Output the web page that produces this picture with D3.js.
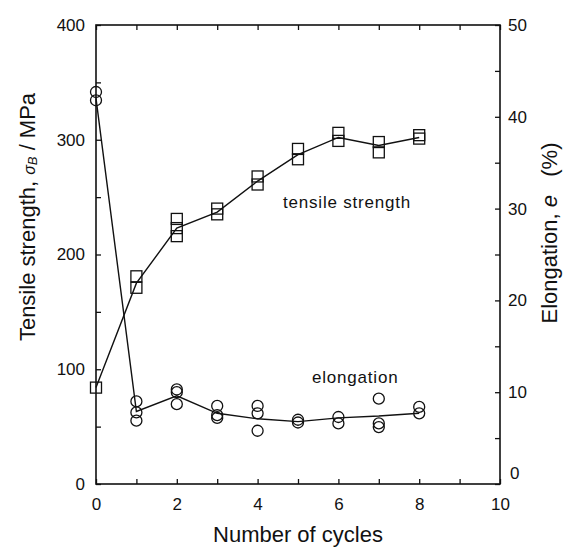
<!DOCTYPE html>
<html>
<head>
<meta charset="utf-8">
<script src="https://cdn.jsdelivr.net/npm/d3@7/dist/d3.min.js"></script>
<style>
  html, body { margin: 0; padding: 0; background: #fff; }
  svg { display: block; font-family: "Liberation Sans", Arial, Helvetica, sans-serif; }
  .tick text { font-size: 17px; fill: #111; }
  .tick line { stroke: #111; stroke-width: 1.3; }
</style>
</head>
<body>
<div id="chart"></div>
<script>
// cycles on the x axis
const cycles = [0, 1, 2, 3, 4, 5, 6, 7, 8];

// tensile strength (MPa), individual specimens
const tensileCycle = [0, 1, 1, 2, 2, 2, 3, 3, 4, 4, 5, 5, 6, 6, 7, 7, 8, 8];
const tensileValue = [84, 181, 171, 231, 223, 216, 240, 235, 268, 261, 292, 283, 306, 299, 298, 289, 304, 301];
// trend line drawn through the squares
const tensileLine = [84, 175, 223, 237, 264, 287, 302, 295, 302];

// elongation (%), individual specimens
const elongCycle = [0, 0, 1, 1, 1, 2, 2, 2, 3, 3, 3, 4, 4, 4, 5, 5, 6, 6, 7, 7, 7, 8, 8];
const elongValue = [42.7, 41.8, 9.0, 7.8, 6.9, 10.3, 10.0, 8.7, 8.5, 7.5, 7.2, 8.5, 7.7, 5.8, 7.0, 6.7, 7.3, 6.6, 9.3, 6.6, 6.2, 8.4, 7.7];
// trend line drawn through the circles
const elongLine = [42.0, 7.9, 9.6, 7.7, 7.1, 6.8, 7.2, 7.4, 7.7];

const xTicks = d3.range(0, 11, 1);
const leftTicks = d3.range(0, 401, 50);
const rightTicks = d3.range(0, 51, 5);

const width = 568, height = 548;
const plotL = 96, plotR = 500, plotT = 25, plotB = 484;
const ink = "#111";

const svg = d3.select("#chart").append("svg")
  .attr("width", width).attr("height", height);

const x = d3.scaleLinear().domain([0, 10]).range([plotL, plotR]);
const yL = d3.scaleLinear().domain([0, 400]).range([plotB, plotT]);
const yR = d3.scaleLinear().domain([0, 50]).range([plotB, plotT]);

// axes, ticks pointing inward
svg.append("g").attr("transform", `translate(0,${plotB})`)
  .call(d3.axisBottom(x).tickValues(xTicks).tickSize(-5).tickPadding(14)
    .tickFormat(d => d % 2 === 0 ? d : ""));
svg.append("g").attr("transform", `translate(0,${plotT})`)
  .call(d3.axisTop(x).tickValues(xTicks).tickSize(-5).tickFormat(""));
svg.append("g").attr("transform", `translate(${plotL},0)`)
  .call(d3.axisLeft(yL).tickValues(leftTicks).tickSize(-5).tickPadding(11)
    .tickFormat(d => d % 100 === 0 ? d : ""));
const rightAxis = svg.append("g").attr("transform", `translate(${plotR},0)`)
  .call(d3.axisRight(yR).tickValues(rightTicks).tickSize(-5).tickPadding(8)
    .tickFormat(d => d % 10 === 0 ? d : ""));
svg.selectAll(".domain").remove();
rightAxis.selectAll(".tick").filter(d => d === 0).select("text")
  .attr("dy", "-0.3em").attr("x", 10);

svg.append("rect")
  .attr("x", plotL).attr("y", plotT)
  .attr("width", plotR - plotL).attr("height", plotB - plotT)
  .attr("fill", "none").attr("stroke", ink).attr("stroke-width", 1.6);

// trend lines
const lineL = d3.line().x((d, i) => x(cycles[i])).y(d => yL(d));
const lineR = d3.line().x((d, i) => x(cycles[i])).y(d => yR(d));

svg.append("path").datum(tensileLine)
  .attr("d", lineL).attr("fill", "none").attr("stroke", ink).attr("stroke-width", 1.4);
svg.append("path").datum(elongLine)
  .attr("d", lineR).attr("fill", "none").attr("stroke", ink).attr("stroke-width", 1.4);

// markers
const sq = 11;
svg.append("g").selectAll("rect")
  .data(tensileValue)
  .join("rect")
  .attr("x", (d, i) => x(tensileCycle[i]) - sq / 2)
  .attr("y", d => yL(d) - sq / 2)
  .attr("width", sq).attr("height", sq)
  .attr("fill", "none").attr("stroke", ink).attr("stroke-width", 1.3);

svg.append("g").selectAll("circle")
  .data(elongValue)
  .join("circle")
  .attr("cx", (d, i) => x(elongCycle[i]))
  .attr("cy", d => yR(d))
  .attr("r", 5.5)
  .attr("fill", "none").attr("stroke", ink).attr("stroke-width", 1.3);

// labels
svg.append("text")
  .attr("x", 283).attr("y", 208)
  .attr("font-size", 17).attr("letter-spacing", 0.8).attr("fill", ink)
  .text("tensile strength");
svg.append("text")
  .attr("x", 312).attr("y", 383)
  .attr("font-size", 17).attr("letter-spacing", 0.8).attr("fill", ink)
  .text("elongation");

svg.append("text")
  .attr("x", (plotL + plotR) / 2).attr("y", 542)
  .attr("text-anchor", "middle").attr("font-size", 22).attr("fill", ink)
  .text("Number of cycles");

const yTitle = svg.append("text")
  .attr("transform", "translate(35,217) rotate(-90)")
  .attr("text-anchor", "middle").attr("font-size", 22).attr("fill", ink);
yTitle.append("tspan").text("Tensile strength, ");
yTitle.append("tspan").attr("font-style", "italic").attr("font-size", 16).text("σ");
yTitle.append("tspan").attr("font-style", "italic").attr("font-size", 13).attr("dy", 2).text("B");
yTitle.append("tspan").attr("dy", -2).text(" / MPa");

const rTitle = svg.append("text")
  .attr("transform", "translate(557,233) rotate(-90)")
  .attr("text-anchor", "middle").attr("font-size", 22).attr("fill", ink);
rTitle.append("tspan").text("Elongation, ");
rTitle.append("tspan").attr("font-style", "italic").text("e");
rTitle.append("tspan").attr("xml:space", "preserve").text("   (%)");
</script>
</body>
</html>
